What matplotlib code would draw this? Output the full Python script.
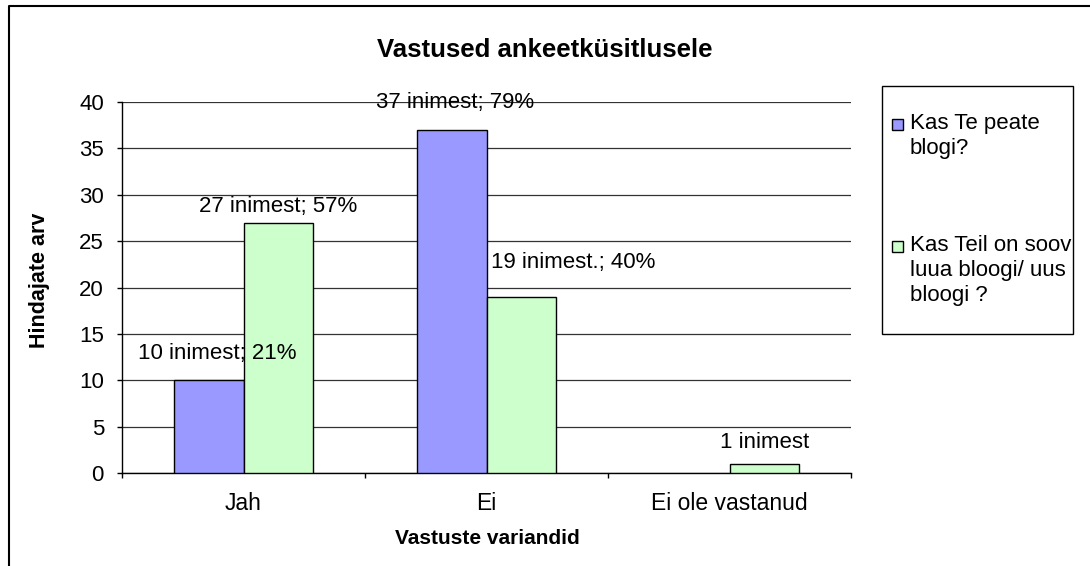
import numpy as np
import matplotlib
matplotlib.use('Agg')
import matplotlib.pyplot as plt
from matplotlib.patches import Rectangle
from matplotlib.lines import Line2D

# Data
categories = ['Jah', 'Ei', 'Ei ole vastanud']
blogi = [10, 37, 0]
soov = [27, 19, 1]
blogi_labels = ['10 inimest; 21%', '37 inimest; 79%', '']
soov_labels = ['27 inimest; 57%', '19 inimest.; 40%', '1 inimest']
series_names = ['Kas Te peate\nblogi?', 'Kas Teil on soov\nluua bloogi/ uus\nbloogi ?']
yticks = [0, 5, 10, 15, 20, 25, 30, 35, 40]

# label offsets (pixels) from the top of each bar, as Excel placed them
blogi_offsets = [(8, 27), (3, 27), (0, 0)]
soov_offsets = [(0, 16), (52, 34), (0, 21)]

colors = ['#9999FF', '#CCFFCC']

plt.rcParams['font.family'] = ['Liberation Sans', 'DejaVu Sans']
fs = 16

W, H = 1090, 566
fig = plt.figure(figsize=(W / 100, H / 100), dpi=100)
ax = fig.add_axes([122 / W, 1 - 473 / H, (851 - 122) / W, (473 - 102) / H])

x = np.arange(len(categories))
w = 0.285
b1 = ax.bar(x - w / 2, blogi, w, color=colors[0], edgecolor='black', linewidth=1, zorder=3)
b2 = ax.bar(x + w / 2, soov, w, color=colors[1], edgecolor='black', linewidth=1, zorder=3)

# data labels
for bars, labels, offs in [(b1, blogi_labels, blogi_offsets), (b2, soov_labels, soov_offsets)]:
    for rect, lab, (dx, dy) in zip(bars, labels, offs):
        if rect.get_height() == 0:
            rect.set_linewidth(0)
        if not lab:
            continue
        ax.annotate(lab, (rect.get_x() + rect.get_width() / 2, rect.get_height()),
                    xytext=(dx, dy), textcoords='offset pixels',
                    ha='center', va='center', fontsize=fs, zorder=5)

# axes styling
ax.set_xlim(-0.5, len(categories) - 0.5)
ax.set_ylim(0, 40)
ax.set_yticks(yticks)
ax.tick_params(axis='y', labelsize=fs, length=3.6, width=1, pad=9.4, direction='out')
ax.set_xticks(x)
ax.set_xticklabels(categories)
ax.set_xticks(np.arange(-0.5, len(categories)), minor=True)
ax.tick_params(axis='x', which='major', length=0, labelsize=16.5, pad=13.5)
ax.tick_params(axis='x', which='minor', length=3.6, width=1, direction='out')
ax.yaxis.grid(True, color='#333333', linewidth=0.9, zorder=0)
ax.set_axisbelow(True)
for s in ['top', 'right']:
    ax.spines[s].set_visible(False)
for s in ['left', 'bottom']:
    ax.spines[s].set_color('black')
    ax.spines[s].set_linewidth(1)

# titles
fig.text(0.5, 1 - 50 / H, 'Vastused ankeetküsitlusele', ha='center', va='center',
         fontsize=18.5, fontweight='bold')
fig.text(39 / W, 1 - 280 / H, 'Hindajate arv', rotation=90, ha='center', va='center',
         fontsize=15.5, fontweight='bold')
fig.text(487 / W, 1 - 538 / H, 'Vastuste variandid', ha='center', va='center',
         fontsize=15, fontweight='bold')

# legend box, entries aligned to the first line of each label as in Excel
fig.add_artist(Rectangle((882 / W, 1 - 334 / H), (1073 - 882) / W, (334 - 86) / H,
                         transform=fig.transFigure, fill=False, edgecolor='black', linewidth=1))
entry_tops = [113, 235]
for name, col, top in zip(series_names, colors, entry_tops):
    fig.add_artist(Rectangle((892 / W, 1 - (top + 17) / H), 11 / W, 11 / H,
                             transform=fig.transFigure, facecolor=col,
                             edgecolor='black', linewidth=1))
    fig.text(910 / W, 1 - top / H, name, ha='left', va='top', fontsize=fs, linespacing=1.25)

# chart area border (top and left visible)
fig.add_artist(Line2D([9 / W, 9 / W, 1], [0, 1 - 6 / H, 1 - 6 / H],
                      transform=fig.transFigure, color='black', linewidth=1.5))

fig.savefig('out.png', dpi=100)
